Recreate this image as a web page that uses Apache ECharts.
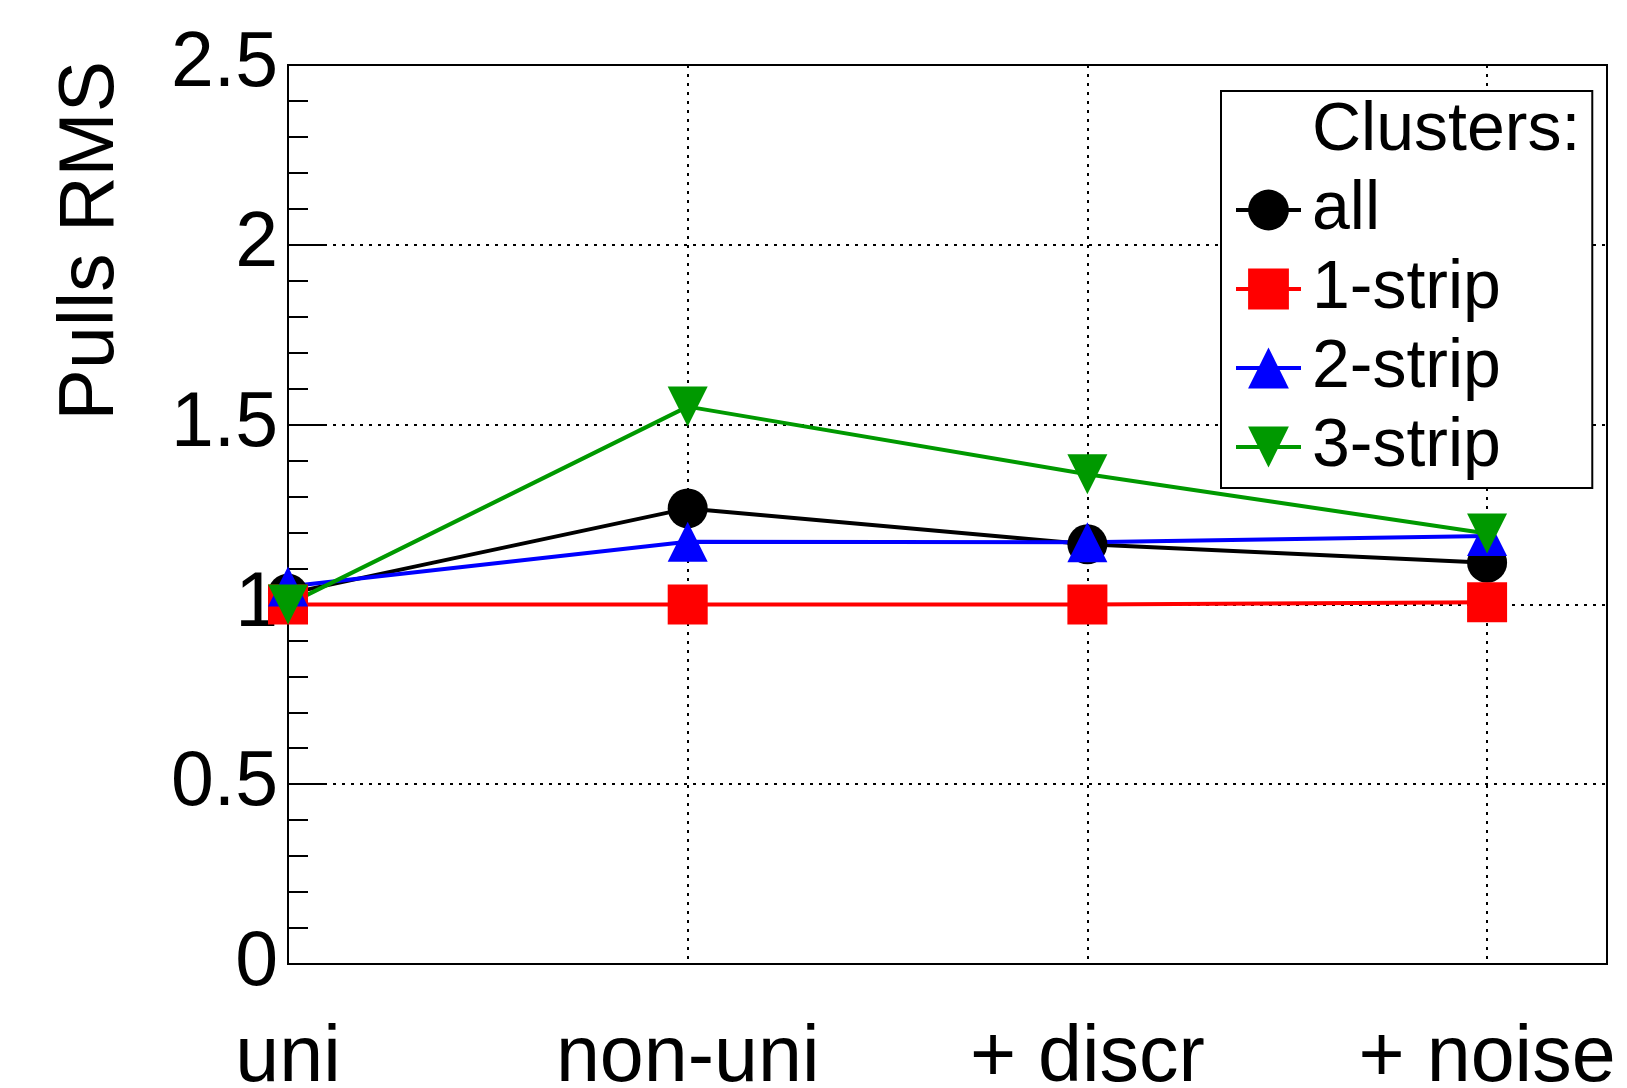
<!DOCTYPE html>
<html>
<head>
<meta charset="utf-8">
<script src="https://cdn.jsdelivr.net/npm/echarts@6/dist/echarts.min.js"></script>
<style>
  html, body { margin: 0; padding: 0; background: #fff; }
  #chart { width: 1627px; height: 1088px; }
</style>
</head>
<body>
<div id="chart"></div>
<script>
// x positions are category indices, the axis runs a bit past the last one
var categories = ['uni', 'non-uni', '+ discr', '+ noise'];
var yTicks = [0, 0.5, 1, 1.5, 2, 2.5];

var allClusters = [1.03, 1.267, 1.167, 1.116];
var strip1 = [1.00, 1.00, 1.00, 1.006];
var strip2 = [1.05, 1.174, 1.173, 1.19];
var strip3 = [1.00, 1.55, 1.362, 1.197];

var FONT = "'Liberation Sans', Arial, Helvetica, sans-serif";

function pairs(values) {
  return values.map(function (v, i) { return [i, v]; });
}

function lineSeries(name, values, color, symbol, rotate) {
  return {
    name: name,
    type: 'line',
    data: pairs(values),
    symbol: symbol,
    symbolSize: 40,
    symbolRotate: rotate || 0,
    showSymbol: true,
    color: color,
    lineStyle: { color: color, width: 4 },
    itemStyle: { color: color, borderWidth: 0 },
    emphasis: { disabled: true },
    animation: false
  };
}

var chart = echarts.init(document.getElementById('chart'));

chart.setOption({
  backgroundColor: '#fff',
  animation: false,
  grid: {
    left: 288, right: 20, top: 65, bottom: 124,
    containLabel: false,
    outerBoundsMode: 'none',
    show: true, borderColor: '#000', borderWidth: 2
  },
  xAxis: {
    type: 'value',
    min: 0,
    max: 3.3,
    interval: 1,
    axisLine: { show: true, lineStyle: { color: '#000', width: 2 } },
    axisTick: { show: false },
    axisLabel: {
      margin: 56,
      fontSize: 79,
      fontFamily: FONT,
      color: '#000',
      hideOverlap: false,
      showMinLabel: true,
      showMaxLabel: true,
      formatter: function (v) {
        return Number.isInteger(v) && categories[v] !== undefined ? categories[v] : '';
      }
    },
    splitLine: { show: true, lineStyle: { color: '#000', width: 2, type: [3, 6] } }
  },
  yAxis: {
    type: 'value',
    min: yTicks[0],
    max: yTicks[yTicks.length - 1],
    interval: 0.5,
    axisLine: { show: true, lineStyle: { color: '#000', width: 2 } },
    axisTick: { show: true, inside: true, length: 39, lineStyle: { color: '#000', width: 2 } },
    minorTick: { show: true, splitNumber: 5, length: 20, lineStyle: { color: '#000', width: 2 } },
    axisLabel: {
      margin: 10,
      fontSize: 77,
      fontFamily: FONT,
      color: '#000',
      formatter: function (v) { return String(v); }
    },
    splitLine: { show: true, lineStyle: { color: '#000', width: 2, type: [3, 6] } }
  },
  graphic: [{
    type: 'text',
    x: 92,
    y: 61,
    rotation: Math.PI / 2,
    style: {
      text: 'Pulls RMS',
      font: '77px ' + FONT,
      fill: '#000',
      textAlign: 'right',
      textVerticalAlign: 'middle'
    }
  }],
  legend: {
    left: 1221,
    top: 91,
    orient: 'vertical',
    backgroundColor: '#fff',
    borderColor: '#000',
    borderWidth: 2,
    borderRadius: 0,
    padding: [6, 12, 7, 13],
    itemWidth: 65,
    itemHeight: 51,
    itemGap: 11,
    selectedMode: false,
    lineStyle: { width: 4 },
    textStyle: {
      fontSize: 68,
      lineHeight: 66,
      fontFamily: FONT,
      color: '#000',
      padding: [0, 0, 0, 6]
    },
    data: [
      { name: 'Clusters:', icon: 'none' },
      'all', '1-strip', '2-strip', '3-strip'
    ]
  },
  series: [
    { name: 'Clusters:', type: 'line', data: [], symbol: 'none', color: '#fff' },
    lineSeries('all', allClusters, '#000000', 'circle'),
    lineSeries('1-strip', strip1, '#ff0000', 'rect'),
    lineSeries('2-strip', strip2, '#0000ff', 'triangle'),
    lineSeries('3-strip', strip3, '#009900', 'triangle', 180)
  ]
});
</script>
</body>
</html>
